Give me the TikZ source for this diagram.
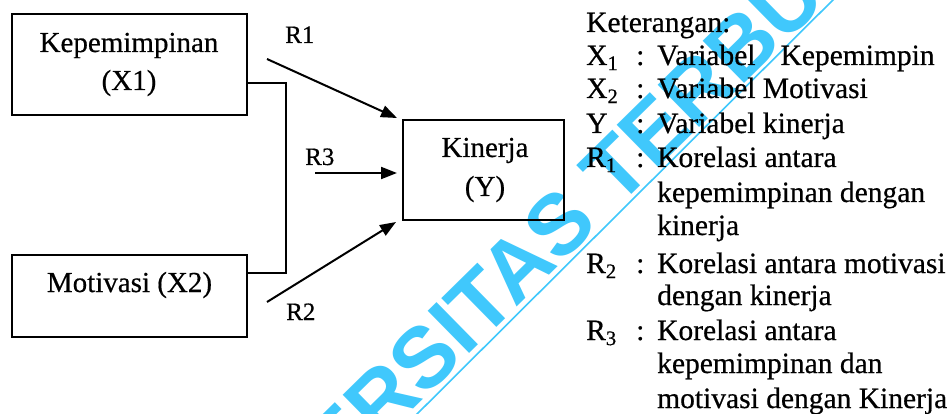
\documentclass[tikz,border=0pt]{standalone}
\usepackage{fontspec}
\setmainfont{Liberation Serif}[FakeBold=0.5]
\newfontfamily\wmfont{Liberation Sans Bold}
\usetikzlibrary{arrows.meta}
\definecolor{wmcyan}{RGB}{64,200,252}

\begin{document}
\begin{tikzpicture}[x=1pt,y=-1pt,
  box/.style={draw, line width=2pt, inner sep=0pt},
  link/.style={line width=2pt, -{Triangle[length=16pt,width=12pt]}},
  boxtext/.style={font=\fontsize{29}{34}\selectfont, inner sep=0pt, anchor=base},
  rlabel/.style={font=\fontsize{25}{30}\selectfont, inner sep=0pt, anchor=base west},
  legend/.style={font=\fontsize{29.5}{34}\selectfont, inner sep=0pt, anchor=base west},
  wm/.style={font=\wmfont\fontsize{86}{86}\selectfont, text=wmcyan, inner sep=0pt}
]
\useasboundingbox[fill=white] (0,0) rectangle (950,414);

% boxes
\node[box, minimum width=235pt, minimum height=101pt] (kep) at (129.5,64.5) {};
\node[box, minimum width=235pt, minimum height=82pt]  (mot) at (129.5,296) {};
\node[box, minimum width=161pt, minimum height=100pt] (kin) at (483.5,170) {};

% box texts
\node[boxtext] (kepA) at (129,52) {Kepemimpinan};
\node[boxtext] (kepB) at (129,90) {(X1)};
\node[boxtext] (motA) at (129.5,292) {Motivasi (X2)};
\node[boxtext] (kinA) at (485,157) {Kinerja};
\node[boxtext] (kinB) at (485,196) {(Y)};

% bracket joining the two predictors
\draw[line width=1.8pt] ([yshift=-18.5pt]kep.east) -- ++(38,0) |- ([yshift=23pt]mot.east);

% correlation arrows
\coordinate (r1s) at (267,59);
\coordinate (r3s) at (315,173);
\coordinate (r2s) at (267,302);
\draw[link] (r1s) -- ([shift={(-5pt,1pt)}]kin.north west);
\draw[link] (r3s) -- ([shift={(-5pt,-3pt)}]kin.west);
\draw[link] (r2s) -- ([shift={(-6pt,-1pt)}]kin.south west);

\node[rlabel] (lr1) at (285,43) {R1};
\node[rlabel] (lr3) at (305,165) {R3};
\node[rlabel] (lr2) at (286,320) {R2};

% legend
\node[legend] (k0) at (586,32) {Keterangan:};
\node[legend] (s1) at (586,65) {X\textsubscript{1}};
\node[legend] (s2) at (586,98) {X\textsubscript{2}};
\node[legend] (s3) at (586,133) {Y};
\node[legend] (s4) at (586,167) {R\textsubscript{1}};
\node[legend] (s5) at (586,273) {R\textsubscript{2}};
\node[legend] (s6) at (586,340) {R\textsubscript{3}};
\foreach \yy/\nm in {65/c1,98/c2,133/c3,167/c4,273/c5,340/c6}
  \node[legend] (\nm) at (636,\yy) {:};
\node[legend] (t1) at (657,65) {Variabel\hspace{0.6em} Kepemimpin};
\node[legend] (t2) at (657,98) {Variabel Motivasi};
\node[legend] (t3) at (657,133) {Variabel kinerja};
\node[legend] (t4) at (657,167) {Korelasi antara};
\node[legend] (t4b) at (657,202) {kepemimpinan dengan};
\node[legend] (t4c) at (657,235) {kinerja};
\node[legend] (t5) at (657,273) {Korelasi antara motivasi};
\node[legend] (t5b) at (657,305) {dengan kinerja};
\node[legend] (t6) at (657,340) {Korelasi antara};
\node[legend] (t6b) at (657,373) {kepemimpinan dan};
\node[legend] (t6c) at (657,408) {motivasi dengan Kinerja};

% watermark
\begin{scope}[blend mode=multiply]
\clip (0,0) rectangle (950,414);
\node[wm, rotate=44.5, anchor=base west] (wmark) at (192.5,626) {UNIVERSITAS TERBUKA};
\coordinate (u1) at (400,431);
\coordinate (u2) at (850,-17);
\draw[wmcyan, line width=1.6pt] (u1) -- (u2);
\end{scope}
\end{tikzpicture}
\end{document}
